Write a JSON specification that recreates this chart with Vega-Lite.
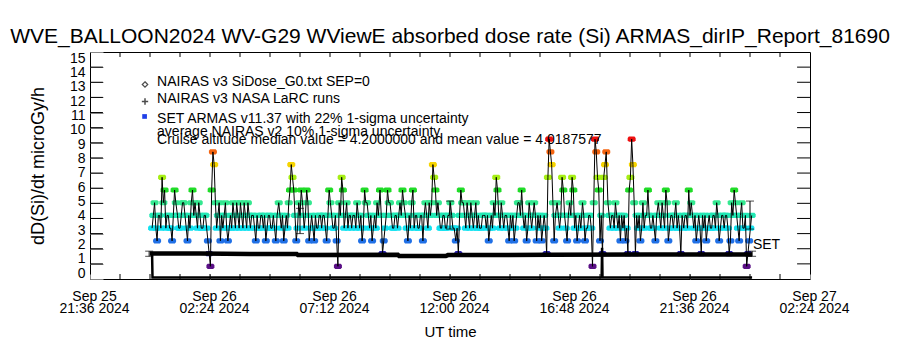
{
  "$schema": "https://vega.github.io/schema/vega-lite/v6.json",
  "width": 720,
  "height": 227,
  "autosize": {"type": "none"},
  "padding": {"left": 90, "top": 52, "right": 90, "bottom": 71},
  "background": "white",
  "config": {
    "view": {"stroke": "black", "strokeWidth": 1},
    "font": "Liberation Sans",
    "axis": {"labelColor": "black", "titleColor": "black", "labelFont": "Liberation Sans", "titleFont": "Liberation Sans", "titleFontWeight": "normal", "grid": false, "domain": false}
  },
  "title": {"text": "WVE_BALLOON2024 WV-G29 WViewE absorbed dose rate (Si) ARMAS_dirIP_Report_81690", "fontSize": 21, "font": "Liberation Sans", "fontWeight": "normal", "color": "black", "anchor": "middle", "offset": 4},
  "datasets": {
    "set": [
      {"t":"2024-09-26T00:05Z","v":3.36},{"t":"2024-09-26T00:08Z","v":4.2},{"t":"2024-09-26T00:11Z","v":5.04},{"t":"2024-09-26T00:14Z","v":3.36},{"t":"2024-09-26T00:17Z","v":2.52},{"t":"2024-09-26T00:20Z","v":4.2},{"t":"2024-09-26T00:23Z","v":4.2},{"t":"2024-09-26T00:26Z","v":3.36},{"t":"2024-09-26T00:29Z","v":6.72},{"t":"2024-09-26T00:32Z","v":5.04},{"t":"2024-09-26T00:35Z","v":5.88},{"t":"2024-09-26T00:38Z","v":3.36},{"t":"2024-09-26T00:41Z","v":4.2},{"t":"2024-09-26T00:44Z","v":4.2},{"t":"2024-09-26T00:47Z","v":3.36},{"t":"2024-09-26T00:50Z","v":3.36},{"t":"2024-09-26T00:53Z","v":2.52},{"t":"2024-09-26T00:56Z","v":4.2},{"t":"2024-09-26T00:59Z","v":5.88},{"t":"2024-09-26T01:02Z","v":5.04},
      {"t":"2024-09-26T01:06Z","v":4.2},{"t":"2024-09-26T01:09Z","v":3.36},{"t":"2024-09-26T01:12Z","v":3.36},{"t":"2024-09-26T01:15Z","v":4.2},{"t":"2024-09-26T01:18Z","v":5.04},{"t":"2024-09-26T01:21Z","v":5.04},{"t":"2024-09-26T01:24Z","v":4.2},{"t":"2024-09-26T01:27Z","v":3.36},{"t":"2024-09-26T01:30Z","v":2.52},{"t":"2024-09-26T01:33Z","v":4.2},{"t":"2024-09-26T01:36Z","v":3.36},{"t":"2024-09-26T01:39Z","v":5.04},{"t":"2024-09-26T01:42Z","v":5.88},{"t":"2024-09-26T01:45Z","v":4.2},{"t":"2024-09-26T01:48Z","v":5.04},{"t":"2024-09-26T01:51Z","v":4.2},{"t":"2024-09-26T01:54Z","v":3.36},{"t":"2024-09-26T01:57Z","v":5.04},{"t":"2024-09-26T02:00Z","v":4.2},{"t":"2024-09-26T02:03Z","v":3.36},
      {"t":"2024-09-26T02:07Z","v":3.36},{"t":"2024-09-26T02:10Z","v":4.2},{"t":"2024-09-26T02:13Z","v":4.2},{"t":"2024-09-26T02:16Z","v":3.36},{"t":"2024-09-26T02:19Z","v":2.52},{"t":"2024-09-26T02:22Z","v":1.68},{"t":"2024-09-26T02:25Z","v":0.84},{"t":"2024-09-26T02:28Z","v":5.88},{"t":"2024-09-26T02:31Z","v":8.4},{"t":"2024-09-26T02:34Z","v":7.56},{"t":"2024-09-26T02:37Z","v":5.04},{"t":"2024-09-26T02:40Z","v":3.36},{"t":"2024-09-26T02:43Z","v":4.2},{"t":"2024-09-26T02:46Z","v":5.04},{"t":"2024-09-26T02:49Z","v":2.52},{"t":"2024-09-26T02:52Z","v":4.2},{"t":"2024-09-26T02:55Z","v":3.36},{"t":"2024-09-26T02:58Z","v":4.2},{"t":"2024-09-26T03:01Z","v":5.04},{"t":"2024-09-26T03:04Z","v":3.36},
      {"t":"2024-09-26T03:07Z","v":2.52},{"t":"2024-09-26T03:10Z","v":3.36},{"t":"2024-09-26T03:13Z","v":4.2},{"t":"2024-09-26T03:16Z","v":3.36},{"t":"2024-09-26T03:19Z","v":5.04},{"t":"2024-09-26T03:22Z","v":4.2},{"t":"2024-09-26T03:25Z","v":3.36},{"t":"2024-09-26T03:28Z","v":5.04},{"t":"2024-09-26T03:31Z","v":4.2},{"t":"2024-09-26T03:34Z","v":3.36},{"t":"2024-09-26T03:37Z","v":5.04},{"t":"2024-09-26T03:40Z","v":4.2},{"t":"2024-09-26T03:43Z","v":3.36},{"t":"2024-09-26T03:46Z","v":5.04},{"t":"2024-09-26T03:49Z","v":4.2},{"t":"2024-09-26T03:52Z","v":3.36},{"t":"2024-09-26T03:55Z","v":5.04},{"t":"2024-09-26T03:58Z","v":4.2},{"t":"2024-09-26T04:01Z","v":3.36},{"t":"2024-09-26T04:04Z","v":4.2},
      {"t":"2024-09-26T04:08Z","v":4.2},{"t":"2024-09-26T04:11Z","v":3.36},{"t":"2024-09-26T04:14Z","v":2.52},{"t":"2024-09-26T04:17Z","v":4.2},{"t":"2024-09-26T04:20Z","v":3.36},{"t":"2024-09-26T04:23Z","v":3.36},{"t":"2024-09-26T04:26Z","v":4.2},{"t":"2024-09-26T04:29Z","v":4.2},{"t":"2024-09-26T04:32Z","v":3.36},{"t":"2024-09-26T04:35Z","v":4.2},{"t":"2024-09-26T04:38Z","v":2.52},{"t":"2024-09-26T04:41Z","v":3.36},{"t":"2024-09-26T04:44Z","v":4.2},{"t":"2024-09-26T04:47Z","v":4.2},{"t":"2024-09-26T04:50Z","v":3.36},{"t":"2024-09-26T04:53Z","v":3.36},{"t":"2024-09-26T04:56Z","v":4.2},{"t":"2024-09-26T04:59Z","v":3.36},{"t":"2024-09-26T05:02Z","v":2.52},{"t":"2024-09-26T05:05Z","v":4.2},
      {"t":"2024-09-26T05:09Z","v":5.04},{"t":"2024-09-26T05:12Z","v":4.2},{"t":"2024-09-26T05:15Z","v":3.36},{"t":"2024-09-26T05:18Z","v":4.2},{"t":"2024-09-26T05:21Z","v":2.52},{"t":"2024-09-26T05:24Z","v":3.36},{"t":"2024-09-26T05:27Z","v":4.2},{"t":"2024-09-26T05:30Z","v":3.36},{"t":"2024-09-26T05:33Z","v":5.04},{"t":"2024-09-26T05:36Z","v":5.88},{"t":"2024-09-26T05:39Z","v":7.56},{"t":"2024-09-26T05:42Z","v":6.72},{"t":"2024-09-26T05:45Z","v":5.88},{"t":"2024-09-26T05:48Z","v":4.2},{"t":"2024-09-26T05:51Z","v":2.52},{"t":"2024-09-26T05:54Z","v":3.36},{"t":"2024-09-26T05:57Z","v":5.04},{"t":"2024-09-26T06:00Z","v":4.2},{"t":"2024-09-26T06:03Z","v":5.88},{"t":"2024-09-26T06:06Z","v":5.04},
      {"t":"2024-09-26T06:10Z","v":3.36},{"t":"2024-09-26T06:13Z","v":4.2},{"t":"2024-09-26T06:16Z","v":5.88},{"t":"2024-09-26T06:19Z","v":5.04},{"t":"2024-09-26T06:22Z","v":2.52},{"t":"2024-09-26T06:25Z","v":3.36},{"t":"2024-09-26T06:28Z","v":4.2},{"t":"2024-09-26T06:31Z","v":3.36},{"t":"2024-09-26T06:34Z","v":2.52},{"t":"2024-09-26T06:37Z","v":4.2},{"t":"2024-09-26T06:40Z","v":3.36},{"t":"2024-09-26T06:43Z","v":3.36},{"t":"2024-09-26T06:46Z","v":4.2},{"t":"2024-09-26T06:49Z","v":4.2},{"t":"2024-09-26T06:52Z","v":3.36},{"t":"2024-09-26T06:55Z","v":4.2},{"t":"2024-09-26T06:58Z","v":4.2},{"t":"2024-09-26T07:01Z","v":3.36},{"t":"2024-09-26T07:04Z","v":2.52},{"t":"2024-09-26T07:07Z","v":4.2},
      {"t":"2024-09-26T07:10Z","v":5.88},{"t":"2024-09-26T07:13Z","v":5.04},{"t":"2024-09-26T07:16Z","v":4.2},{"t":"2024-09-26T07:19Z","v":3.36},{"t":"2024-09-26T07:22Z","v":3.36},{"t":"2024-09-26T07:25Z","v":4.2},{"t":"2024-09-26T07:28Z","v":2.52},{"t":"2024-09-26T07:31Z","v":0.84},{"t":"2024-09-26T07:34Z","v":5.04},{"t":"2024-09-26T07:37Z","v":4.2},{"t":"2024-09-26T07:40Z","v":6.72},{"t":"2024-09-26T07:43Z","v":5.88},{"t":"2024-09-26T07:46Z","v":3.36},{"t":"2024-09-26T07:49Z","v":4.2},{"t":"2024-09-26T07:52Z","v":5.04},{"t":"2024-09-26T07:55Z","v":3.36},{"t":"2024-09-26T07:58Z","v":4.2},{"t":"2024-09-26T08:01Z","v":4.2},{"t":"2024-09-26T08:04Z","v":3.36},{"t":"2024-09-26T08:07Z","v":4.2},
      {"t":"2024-09-26T08:11Z","v":4.2},{"t":"2024-09-26T08:14Z","v":3.36},{"t":"2024-09-26T08:17Z","v":5.04},{"t":"2024-09-26T08:20Z","v":4.2},{"t":"2024-09-26T08:23Z","v":3.36},{"t":"2024-09-26T08:26Z","v":4.2},{"t":"2024-09-26T08:29Z","v":2.52},{"t":"2024-09-26T08:32Z","v":3.36},{"t":"2024-09-26T08:35Z","v":5.88},{"t":"2024-09-26T08:38Z","v":5.04},{"t":"2024-09-26T08:41Z","v":5.04},{"t":"2024-09-26T08:44Z","v":4.2},{"t":"2024-09-26T08:47Z","v":3.36},{"t":"2024-09-26T08:50Z","v":4.2},{"t":"2024-09-26T08:53Z","v":2.52},{"t":"2024-09-26T08:56Z","v":3.36},{"t":"2024-09-26T08:59Z","v":4.2},{"t":"2024-09-26T09:02Z","v":3.36},{"t":"2024-09-26T09:05Z","v":5.04},{"t":"2024-09-26T09:08Z","v":4.2},
      {"t":"2024-09-26T09:12Z","v":5.88},{"t":"2024-09-26T09:15Z","v":4.2},{"t":"2024-09-26T09:18Z","v":1.68},{"t":"2024-09-26T09:21Z","v":2.52},{"t":"2024-09-26T09:24Z","v":3.36},{"t":"2024-09-26T09:27Z","v":4.2},{"t":"2024-09-26T09:30Z","v":5.88},{"t":"2024-09-26T09:33Z","v":5.04},{"t":"2024-09-26T09:36Z","v":5.04},{"t":"2024-09-26T09:39Z","v":4.2},{"t":"2024-09-26T09:42Z","v":3.36},{"t":"2024-09-26T09:45Z","v":3.36},{"t":"2024-09-26T09:48Z","v":4.2},{"t":"2024-09-26T09:51Z","v":4.2},{"t":"2024-09-26T09:54Z","v":3.36},{"t":"2024-09-26T09:57Z","v":4.2},{"t":"2024-09-26T10:00Z","v":5.04},{"t":"2024-09-26T10:03Z","v":4.2},{"t":"2024-09-26T10:06Z","v":5.88},{"t":"2024-09-26T10:09Z","v":5.04},
      {"t":"2024-09-26T10:13Z","v":4.2},{"t":"2024-09-26T10:16Z","v":3.36},{"t":"2024-09-26T10:19Z","v":2.52},{"t":"2024-09-26T10:22Z","v":4.2},{"t":"2024-09-26T10:25Z","v":3.36},{"t":"2024-09-26T10:28Z","v":5.04},{"t":"2024-09-26T10:31Z","v":5.88},{"t":"2024-09-26T10:34Z","v":3.36},{"t":"2024-09-26T10:37Z","v":4.2},{"t":"2024-09-26T10:40Z","v":4.2},{"t":"2024-09-26T10:43Z","v":3.36},{"t":"2024-09-26T10:46Z","v":3.36},{"t":"2024-09-26T10:49Z","v":4.2},{"t":"2024-09-26T10:52Z","v":4.2},{"t":"2024-09-26T10:55Z","v":2.52},{"t":"2024-09-26T10:58Z","v":4.2},{"t":"2024-09-26T11:01Z","v":5.04},{"t":"2024-09-26T11:04Z","v":4.2},{"t":"2024-09-26T11:07Z","v":3.36},{"t":"2024-09-26T11:10Z","v":5.04},
      {"t":"2024-09-26T11:13Z","v":4.2},{"t":"2024-09-26T11:16Z","v":5.04},{"t":"2024-09-26T11:19Z","v":7.56},{"t":"2024-09-26T11:22Z","v":6.72},{"t":"2024-09-26T11:25Z","v":5.88},{"t":"2024-09-26T11:28Z","v":4.2},{"t":"2024-09-26T11:31Z","v":5.04},{"t":"2024-09-26T11:34Z","v":4.2},{"t":"2024-09-26T11:37Z","v":3.36},{"t":"2024-09-26T11:40Z","v":3.36},{"t":"2024-09-26T11:43Z","v":4.2},{"t":"2024-09-26T11:46Z","v":4.2},{"t":"2024-09-26T11:49Z","v":3.36},{"t":"2024-09-26T11:52Z","v":3.36},{"t":"2024-09-26T11:55Z","v":4.2},{"t":"2024-09-26T11:58Z","v":4.2},{"t":"2024-09-26T12:01Z","v":5.04},{"t":"2024-09-26T12:04Z","v":4.2},{"t":"2024-09-26T12:07Z","v":3.36},{"t":"2024-09-26T12:10Z","v":3.36},
      {"t":"2024-09-26T12:14Z","v":2.52},{"t":"2024-09-26T12:17Z","v":3.36},{"t":"2024-09-26T12:20Z","v":1.68},{"t":"2024-09-26T12:23Z","v":4.2},{"t":"2024-09-26T12:26Z","v":5.88},{"t":"2024-09-26T12:29Z","v":5.04},{"t":"2024-09-26T12:32Z","v":5.04},{"t":"2024-09-26T12:35Z","v":4.2},{"t":"2024-09-26T12:38Z","v":3.36},{"t":"2024-09-26T12:41Z","v":5.04},{"t":"2024-09-26T12:44Z","v":4.2},{"t":"2024-09-26T12:47Z","v":3.36},{"t":"2024-09-26T12:50Z","v":5.04},{"t":"2024-09-26T12:53Z","v":4.2},{"t":"2024-09-26T12:56Z","v":3.36},{"t":"2024-09-26T12:59Z","v":4.2},{"t":"2024-09-26T13:02Z","v":5.04},{"t":"2024-09-26T13:05Z","v":3.36},{"t":"2024-09-26T13:08Z","v":4.2},{"t":"2024-09-26T13:11Z","v":3.36},
      {"t":"2024-09-26T13:15Z","v":3.36},{"t":"2024-09-26T13:18Z","v":4.2},{"t":"2024-09-26T13:21Z","v":4.2},{"t":"2024-09-26T13:24Z","v":4.2},{"t":"2024-09-26T13:27Z","v":3.36},{"t":"2024-09-26T13:30Z","v":4.2},{"t":"2024-09-26T13:33Z","v":2.52},{"t":"2024-09-26T13:36Z","v":3.36},{"t":"2024-09-26T13:39Z","v":4.2},{"t":"2024-09-26T13:42Z","v":3.36},{"t":"2024-09-26T13:45Z","v":5.04},{"t":"2024-09-26T13:48Z","v":4.2},{"t":"2024-09-26T13:51Z","v":6.72},{"t":"2024-09-26T13:54Z","v":5.88},{"t":"2024-09-26T13:57Z","v":4.2},{"t":"2024-09-26T14:00Z","v":3.36},{"t":"2024-09-26T14:03Z","v":5.04},{"t":"2024-09-26T14:06Z","v":4.2},{"t":"2024-09-26T14:09Z","v":3.36},{"t":"2024-09-26T14:12Z","v":4.2},
      {"t":"2024-09-26T14:16Z","v":4.2},{"t":"2024-09-26T14:19Z","v":3.36},{"t":"2024-09-26T14:22Z","v":2.52},{"t":"2024-09-26T14:25Z","v":4.2},{"t":"2024-09-26T14:28Z","v":3.36},{"t":"2024-09-26T14:31Z","v":4.2},{"t":"2024-09-26T14:34Z","v":2.52},{"t":"2024-09-26T14:37Z","v":3.36},{"t":"2024-09-26T14:40Z","v":4.2},{"t":"2024-09-26T14:43Z","v":5.04},{"t":"2024-09-26T14:46Z","v":5.04},{"t":"2024-09-26T14:49Z","v":4.2},{"t":"2024-09-26T14:52Z","v":5.88},{"t":"2024-09-26T14:55Z","v":4.2},{"t":"2024-09-26T14:58Z","v":3.36},{"t":"2024-09-26T15:01Z","v":4.2},{"t":"2024-09-26T15:04Z","v":2.52},{"t":"2024-09-26T15:07Z","v":3.36},{"t":"2024-09-26T15:10Z","v":5.04},{"t":"2024-09-26T15:13Z","v":4.2},
      {"t":"2024-09-26T15:16Z","v":3.36},{"t":"2024-09-26T15:19Z","v":4.2},{"t":"2024-09-26T15:22Z","v":5.04},{"t":"2024-09-26T15:25Z","v":4.2},{"t":"2024-09-26T15:28Z","v":2.52},{"t":"2024-09-26T15:31Z","v":4.2},{"t":"2024-09-26T15:34Z","v":3.36},{"t":"2024-09-26T15:37Z","v":4.2},{"t":"2024-09-26T15:40Z","v":2.52},{"t":"2024-09-26T15:43Z","v":3.36},{"t":"2024-09-26T15:46Z","v":4.2},{"t":"2024-09-26T15:49Z","v":3.36},{"t":"2024-09-26T15:52Z","v":1.68},{"t":"2024-09-26T15:55Z","v":6.72},{"t":"2024-09-26T15:58Z","v":9.24},{"t":"2024-09-26T16:01Z","v":8.4},{"t":"2024-09-26T16:04Z","v":7.56},{"t":"2024-09-26T16:07Z","v":5.04},{"t":"2024-09-26T16:10Z","v":2.52},{"t":"2024-09-26T16:13Z","v":4.2},
      {"t":"2024-09-26T16:17Z","v":5.04},{"t":"2024-09-26T16:20Z","v":4.2},{"t":"2024-09-26T16:23Z","v":3.36},{"t":"2024-09-26T16:26Z","v":4.2},{"t":"2024-09-26T16:29Z","v":6.72},{"t":"2024-09-26T16:32Z","v":5.88},{"t":"2024-09-26T16:35Z","v":4.2},{"t":"2024-09-26T16:38Z","v":3.36},{"t":"2024-09-26T16:41Z","v":2.52},{"t":"2024-09-26T16:44Z","v":4.2},{"t":"2024-09-26T16:47Z","v":5.04},{"t":"2024-09-26T16:50Z","v":4.2},{"t":"2024-09-26T16:53Z","v":6.72},{"t":"2024-09-26T16:56Z","v":5.88},{"t":"2024-09-26T16:59Z","v":3.36},{"t":"2024-09-26T17:02Z","v":4.2},{"t":"2024-09-26T17:05Z","v":2.52},{"t":"2024-09-26T17:08Z","v":3.36},{"t":"2024-09-26T17:11Z","v":4.2},{"t":"2024-09-26T17:14Z","v":3.36},
      {"t":"2024-09-26T17:18Z","v":5.04},{"t":"2024-09-26T17:21Z","v":4.2},{"t":"2024-09-26T17:24Z","v":2.52},{"t":"2024-09-26T17:27Z","v":3.36},{"t":"2024-09-26T17:30Z","v":3.36},{"t":"2024-09-26T17:33Z","v":4.2},{"t":"2024-09-26T17:36Z","v":4.2},{"t":"2024-09-26T17:39Z","v":3.36},{"t":"2024-09-26T17:42Z","v":0.84},{"t":"2024-09-26T17:45Z","v":5.04},{"t":"2024-09-26T17:48Z","v":9.24},{"t":"2024-09-26T17:51Z","v":8.4},{"t":"2024-09-26T17:54Z","v":6.72},{"t":"2024-09-26T17:57Z","v":5.88},{"t":"2024-09-26T18:00Z","v":2.52},{"t":"2024-09-26T18:03Z","v":4.2},{"t":"2024-09-26T18:06Z","v":1.68},{"t":"2024-09-26T18:09Z","v":6.72},{"t":"2024-09-26T18:12Z","v":7.56},{"t":"2024-09-26T18:15Z","v":8.4},
      {"t":"2024-09-26T18:19Z","v":5.04},{"t":"2024-09-26T18:22Z","v":4.2},{"t":"2024-09-26T18:25Z","v":3.36},{"t":"2024-09-26T18:28Z","v":4.2},{"t":"2024-09-26T18:31Z","v":4.2},{"t":"2024-09-26T18:34Z","v":3.36},{"t":"2024-09-26T18:37Z","v":5.04},{"t":"2024-09-26T18:40Z","v":4.2},{"t":"2024-09-26T18:43Z","v":3.36},{"t":"2024-09-26T18:46Z","v":4.2},{"t":"2024-09-26T18:49Z","v":2.52},{"t":"2024-09-26T18:52Z","v":4.2},{"t":"2024-09-26T18:55Z","v":3.36},{"t":"2024-09-26T18:58Z","v":4.2},{"t":"2024-09-26T19:01Z","v":2.52},{"t":"2024-09-26T19:04Z","v":3.36},{"t":"2024-09-26T19:07Z","v":1.68},{"t":"2024-09-26T19:10Z","v":5.88},{"t":"2024-09-26T19:13Z","v":6.72},{"t":"2024-09-26T19:16Z","v":9.24},
      {"t":"2024-09-26T19:19Z","v":7.56},{"t":"2024-09-26T19:22Z","v":5.04},{"t":"2024-09-26T19:25Z","v":1.68},{"t":"2024-09-26T19:28Z","v":4.2},{"t":"2024-09-26T19:31Z","v":3.36},{"t":"2024-09-26T19:34Z","v":4.2},{"t":"2024-09-26T19:37Z","v":2.52},{"t":"2024-09-26T19:40Z","v":3.36},{"t":"2024-09-26T19:43Z","v":5.04},{"t":"2024-09-26T19:46Z","v":3.36},{"t":"2024-09-26T19:49Z","v":4.2},{"t":"2024-09-26T19:52Z","v":4.2},{"t":"2024-09-26T19:55Z","v":5.88},{"t":"2024-09-26T19:58Z","v":4.2},{"t":"2024-09-26T20:01Z","v":3.36},{"t":"2024-09-26T20:04Z","v":3.36},{"t":"2024-09-26T20:07Z","v":4.2},{"t":"2024-09-26T20:10Z","v":3.36},{"t":"2024-09-26T20:13Z","v":2.52},{"t":"2024-09-26T20:16Z","v":4.2},
      {"t":"2024-09-26T20:20Z","v":5.04},{"t":"2024-09-26T20:23Z","v":4.2},{"t":"2024-09-26T20:26Z","v":3.36},{"t":"2024-09-26T20:29Z","v":5.04},{"t":"2024-09-26T20:32Z","v":4.2},{"t":"2024-09-26T20:35Z","v":3.36},{"t":"2024-09-26T20:38Z","v":5.88},{"t":"2024-09-26T20:41Z","v":5.04},{"t":"2024-09-26T20:44Z","v":2.52},{"t":"2024-09-26T20:47Z","v":3.36},{"t":"2024-09-26T20:50Z","v":4.2},{"t":"2024-09-26T20:53Z","v":4.2},{"t":"2024-09-26T20:56Z","v":3.36},{"t":"2024-09-26T20:59Z","v":4.2},{"t":"2024-09-26T21:02Z","v":5.04},{"t":"2024-09-26T21:05Z","v":3.36},{"t":"2024-09-26T21:08Z","v":4.2},{"t":"2024-09-26T21:11Z","v":3.36},{"t":"2024-09-26T21:14Z","v":1.68},{"t":"2024-09-26T21:17Z","v":4.2},
      {"t":"2024-09-26T21:21Z","v":3.36},{"t":"2024-09-26T21:24Z","v":4.2},{"t":"2024-09-26T21:27Z","v":4.2},{"t":"2024-09-26T21:30Z","v":3.36},{"t":"2024-09-26T21:33Z","v":5.88},{"t":"2024-09-26T21:36Z","v":4.2},{"t":"2024-09-26T21:39Z","v":5.04},{"t":"2024-09-26T21:42Z","v":4.2},{"t":"2024-09-26T21:45Z","v":3.36},{"t":"2024-09-26T21:48Z","v":4.2},{"t":"2024-09-26T21:51Z","v":2.52},{"t":"2024-09-26T21:54Z","v":3.36},{"t":"2024-09-26T21:57Z","v":4.2},{"t":"2024-09-26T22:00Z","v":3.36},{"t":"2024-09-26T22:03Z","v":1.68},{"t":"2024-09-26T22:06Z","v":4.2},{"t":"2024-09-26T22:09Z","v":3.36},{"t":"2024-09-26T22:12Z","v":4.2},{"t":"2024-09-26T22:15Z","v":2.52},{"t":"2024-09-26T22:18Z","v":3.36},
      {"t":"2024-09-26T22:22Z","v":4.2},{"t":"2024-09-26T22:25Z","v":3.36},{"t":"2024-09-26T22:28Z","v":3.36},{"t":"2024-09-26T22:31Z","v":4.2},{"t":"2024-09-26T22:34Z","v":4.2},{"t":"2024-09-26T22:37Z","v":3.36},{"t":"2024-09-26T22:40Z","v":5.04},{"t":"2024-09-26T22:43Z","v":4.2},{"t":"2024-09-26T22:46Z","v":2.52},{"t":"2024-09-26T22:49Z","v":3.36},{"t":"2024-09-26T22:52Z","v":4.2},{"t":"2024-09-26T22:55Z","v":4.2},{"t":"2024-09-26T22:58Z","v":3.36},{"t":"2024-09-26T23:01Z","v":4.2},{"t":"2024-09-26T23:04Z","v":4.2},{"t":"2024-09-26T23:07Z","v":3.36},{"t":"2024-09-26T23:10Z","v":1.68},{"t":"2024-09-26T23:13Z","v":2.52},{"t":"2024-09-26T23:16Z","v":5.04},{"t":"2024-09-26T23:19Z","v":4.2},
      {"t":"2024-09-26T23:22Z","v":5.88},{"t":"2024-09-26T23:25Z","v":5.04},{"t":"2024-09-26T23:28Z","v":4.2},{"t":"2024-09-26T23:31Z","v":3.36},{"t":"2024-09-26T23:34Z","v":2.52},{"t":"2024-09-26T23:37Z","v":4.2},{"t":"2024-09-26T23:40Z","v":5.04},{"t":"2024-09-26T23:43Z","v":3.36},{"t":"2024-09-26T23:46Z","v":3.36},{"t":"2024-09-26T23:49Z","v":4.2},{"t":"2024-09-26T23:52Z","v":0.84},{"t":"2024-09-26T23:55Z","v":1.68},{"t":"2024-09-26T23:58Z","v":2.52},{"t":"2024-09-27T00:01Z","v":3.36},{"t":"2024-09-27T00:04Z","v":4.2}
    ],
    "nairas": [
      {"t":"2024-09-26T00:00Z","v":1.68},{"t":"2024-09-26T02:00Z","v":1.68},{"t":"2024-09-26T04:00Z","v":1.66},{"t":"2024-09-26T05:52Z","v":1.66},{"t":"2024-09-26T05:55Z","v":1.58},{"t":"2024-09-26T09:55Z","v":1.6},{"t":"2024-09-26T09:58Z","v":1.52},{"t":"2024-09-26T11:50Z","v":1.52},{"t":"2024-09-26T11:55Z","v":1.58},{"t":"2024-09-26T16:00Z","v":1.6},{"t":"2024-09-26T20:00Z","v":1.62},{"t":"2024-09-27T00:05Z","v":1.62}
    ],
    "larc": [
      {"t":"2024-09-26T00:05Z","v":1.66},{"t":"2024-09-26T00:06Z","v":0.1},{"t":"2024-09-26T18:04Z","v":0.1},{"t":"2024-09-26T18:05Z","v":2.06},{"t":"2024-09-26T18:06Z","v":0.1},{"t":"2024-09-27T00:05Z","v":0.1}
    ],
    "err": [
      {"t":"2024-09-26T06:00Z","lo":3.0,"hi":4.67},
      {"t":"2024-09-26T12:00Z","lo":3.3,"hi":5.15},
      {"t":"2024-09-27T00:00Z","lo":3.3,"hi":5.15},
      {"t":"2024-09-25T23:58Z","lo":1.5,"hi":1.84},
      {"t":"2024-09-27T00:05Z","lo":1.5,"hi":1.84}
    ],
    "notes": [
      {"t":"2024-09-26T00:17Z","v":12.74,"label":"NAIRAS v3 SiDose_G0.txt SEP=0"},
      {"t":"2024-09-26T00:17Z","v":11.6,"label":"NAIRAS v3 NASA LaRC runs"},
      {"t":"2024-09-26T00:17Z","v":10.34,"label":"SET ARMAS v11.37 with 22% 1-sigma uncertainty"},
      {"t":"2024-09-26T00:17Z","v":9.48,"label":"average NAIRAS v2 10% 1-sigma uncertainty"},
      {"t":"2024-09-26T00:17Z","v":8.89,"label":"Cruise altitude median value = 4.2000000 and mean value = 4.0187577"},
      {"t":"2024-09-27T00:07Z","v":1.95,"label":"SET"}
    ],
    "yticks": [{"v":1},{"v":2},{"v":3},{"v":4},{"v":5},{"v":6},{"v":7},{"v":8},{"v":9},{"v":10},{"v":11},{"v":12},{"v":13},{"v":14}],
    "xticks": [
      {"t":"2024-09-25T22:48Z"},{"t":"2024-09-26T00:00Z"},{"t":"2024-09-26T01:12Z"},{"t":"2024-09-26T02:24Z"},{"t":"2024-09-26T03:36Z"},{"t":"2024-09-26T04:48Z"},
      {"t":"2024-09-26T06:00Z"},{"t":"2024-09-26T07:12Z"},{"t":"2024-09-26T08:24Z"},{"t":"2024-09-26T09:36Z"},{"t":"2024-09-26T10:48Z"},{"t":"2024-09-26T12:00Z"},
      {"t":"2024-09-26T13:12Z"},{"t":"2024-09-26T14:24Z"},{"t":"2024-09-26T15:36Z"},{"t":"2024-09-26T16:48Z"},{"t":"2024-09-26T18:00Z"},{"t":"2024-09-26T19:12Z"},
      {"t":"2024-09-26T20:24Z"},{"t":"2024-09-26T21:36Z"},{"t":"2024-09-26T22:48Z"},{"t":"2024-09-27T00:00Z"},{"t":"2024-09-27T01:12Z"}
    ]
  },
  "resolve": {"axis": {"x": "independent", "y": "independent"}},
  "layer": [
    {
      "data": {"name": "set"},
      "mark": {"type": "point", "shape": "M-1,-0.3L-0.7,-0.65L0.7,-0.65L1,-0.3L1,0.3L0.7,0.65L-0.7,0.65L-1,0.3Z", "size": 64, "filled": true, "opacity": 1, "strokeWidth": 0},
      "encoding": {
        "x": {"field": "t", "type": "temporal",
          "scale": {"type": "utc", "domain": [{"year":2024,"month":9,"date":25,"hours":21,"minutes":36,"utc":true},{"year":2024,"month":9,"date":27,"hours":2,"minutes":24,"utc":true}], "nice": false},
          "axis": {"orient": "bottom", "offset": -5, "tickSize": 5,
            "values": [
              {"year":2024,"month":9,"date":25,"hours":21,"minutes":36,"utc":true},{"year":2024,"month":9,"date":26,"hours":2,"minutes":24,"utc":true},
              {"year":2024,"month":9,"date":26,"hours":7,"minutes":12,"utc":true},{"year":2024,"month":9,"date":26,"hours":12,"minutes":0,"utc":true},
              {"year":2024,"month":9,"date":26,"hours":16,"minutes":48,"utc":true},{"year":2024,"month":9,"date":26,"hours":21,"minutes":36,"utc":true},
              {"year":2024,"month":9,"date":27,"hours":2,"minutes":24,"utc":true}
            ],
            "labelExpr": "[utcFormat(datum.value,'%b %d'), utcFormat(datum.value,'%H:%M %Y')]",
            "labelFontSize": 14, "labelPadding": 10, "labelLineHeight": 12, "labelOverlap": false, "labelFlush": false, "labelBound": false, "labelOffset": 4,
            "title": "UT time", "titleFontSize": 15, "titlePadding": 9}},
        "y": {"field": "v", "type": "quantitative", "scale": {"domain": [0, 15], "nice": false, "zero": false},
          "axis": {"orient": "left", "offset": -13, "tickSize": 13, "values": [0,1,2,3,4,5,6,7,8,9,10,11,12,13,14,15], "labelFontSize": 14, "labelPadding": 5,
            "labelOffset": {"expr": "(datum.value - 7.5) * 0.8"},
            "title": "dD(Si)/dt microGy/h", "titleFontSize": 18, "titlePadding": 22}},
        "color": {"field": "v", "type": "quantitative", "legend": null,
          "scale": {"domain": [0.84,1.68,2.52,3.36,4.2,5.04,5.88,6.72,7.56,8.4,9.24],
            "range": ["#5a0f86","#2a20b0","#2070e6","#12e2f0","#22e8b4","#34e890","#20dc28","#a6ee14","#f6d400","#f46410","#ee1010"]}}
      }
    },
    {
      "data": {"name": "set"},
      "mark": {"type": "line", "color": "black", "strokeWidth": 1},
      "encoding": {
        "x": {"field": "t", "type": "temporal", "axis": null},
        "y": {"field": "v", "type": "quantitative", "axis": null}
      }
    },
    {
      "data": {"name": "nairas"},
      "mark": {"type": "line", "color": "black", "strokeWidth": 4.5},
      "encoding": {
        "x": {"field": "t", "type": "temporal", "axis": null},
        "y": {"field": "v", "type": "quantitative", "axis": null}
      }
    },
    {
      "data": {"name": "larc"},
      "mark": {"type": "line", "color": "black", "strokeWidth": 2.5},
      "encoding": {
        "x": {"field": "t", "type": "temporal", "axis": null},
        "y": {"field": "v", "type": "quantitative", "axis": null}
      }
    },
    {
      "data": {"name": "err"},
      "mark": {"type": "errorbar", "ticks": {"size": 8}, "color": "black"},
      "encoding": {
        "x": {"field": "t", "type": "temporal", "axis": null},
        "y": {"field": "lo", "type": "quantitative", "axis": null},
        "y2": {"field": "hi"}
      }
    },
    {
      "data": {"name": "notes"},
      "mark": {"type": "text", "align": "left", "baseline": "alphabetic", "fontSize": 14, "font": "Liberation Sans", "color": "black"},
      "encoding": {
        "x": {"field": "t", "type": "temporal", "axis": null},
        "y": {"field": "v", "type": "quantitative", "axis": null},
        "text": {"field": "label"}
      }
    },
    {
      "data": {"values": [{"t": "2024-09-25T23:48Z", "v": 12.85}]},
      "mark": {"type": "point", "shape": "M0,-1L1,0L0,1L-1,0Z", "size": 30, "filled": false, "color": "black", "strokeWidth": 1.2},
      "encoding": {
        "x": {"field": "t", "type": "temporal", "axis": null},
        "y": {"field": "v", "type": "quantitative", "axis": null}
      }
    },
    {
      "data": {"values": [{"t": "2024-09-25T23:48Z", "v": 11.73}]},
      "mark": {"type": "point", "shape": "M-1,0L1,0M0,-1L0,1", "size": 40, "filled": false, "color": "black", "strokeWidth": 1.5},
      "encoding": {
        "x": {"field": "t", "type": "temporal", "axis": null},
        "y": {"field": "v", "type": "quantitative", "axis": null}
      }
    },
    {
      "data": {"values": [{"t": "2024-09-25T23:47Z", "v": 10.74}]},
      "mark": {"type": "square", "size": 22, "color": "#1f3fe8", "opacity": 1},
      "encoding": {
        "x": {"field": "t", "type": "temporal", "axis": null},
        "y": {"field": "v", "type": "quantitative", "axis": null}
      }
    },
    {
      "data": {"name": "yticks"},
      "mark": {"type": "rule", "color": "black", "strokeWidth": 1},
      "encoding": {
        "y": {"field": "v", "type": "quantitative", "axis": null},
        "x": {"datum": {"year":2024,"month":9,"date":25,"hours":21,"minutes":36,"utc":true}, "type": "temporal", "axis": null},
        "x2": {"datum": {"year":2024,"month":9,"date":25,"hours":22,"minutes":7,"utc":true}}
      }
    },
    {
      "data": {"name": "yticks"},
      "mark": {"type": "rule", "color": "black", "strokeWidth": 1},
      "encoding": {
        "y": {"field": "v", "type": "quantitative", "axis": null},
        "x": {"datum": {"year":2024,"month":9,"date":27,"hours":1,"minutes":53,"utc":true}, "type": "temporal", "axis": null},
        "x2": {"datum": {"year":2024,"month":9,"date":27,"hours":2,"minutes":24,"utc":true}}
      }
    },
    {
      "data": {"name": "xticks"},
      "mark": {"type": "rule", "color": "black", "strokeWidth": 1},
      "encoding": {
        "x": {"field": "t", "type": "temporal", "axis": null},
        "y": {"datum": 0, "type": "quantitative", "axis": null},
        "y2": {"datum": 0.33}
      }
    },
    {
      "data": {"name": "xticks"},
      "mark": {"type": "rule", "color": "black", "strokeWidth": 1},
      "encoding": {
        "x": {"field": "t", "type": "temporal", "axis": null},
        "y": {"datum": 14.67, "type": "quantitative", "axis": null},
        "y2": {"datum": 15}
      }
    }
  ]
}
